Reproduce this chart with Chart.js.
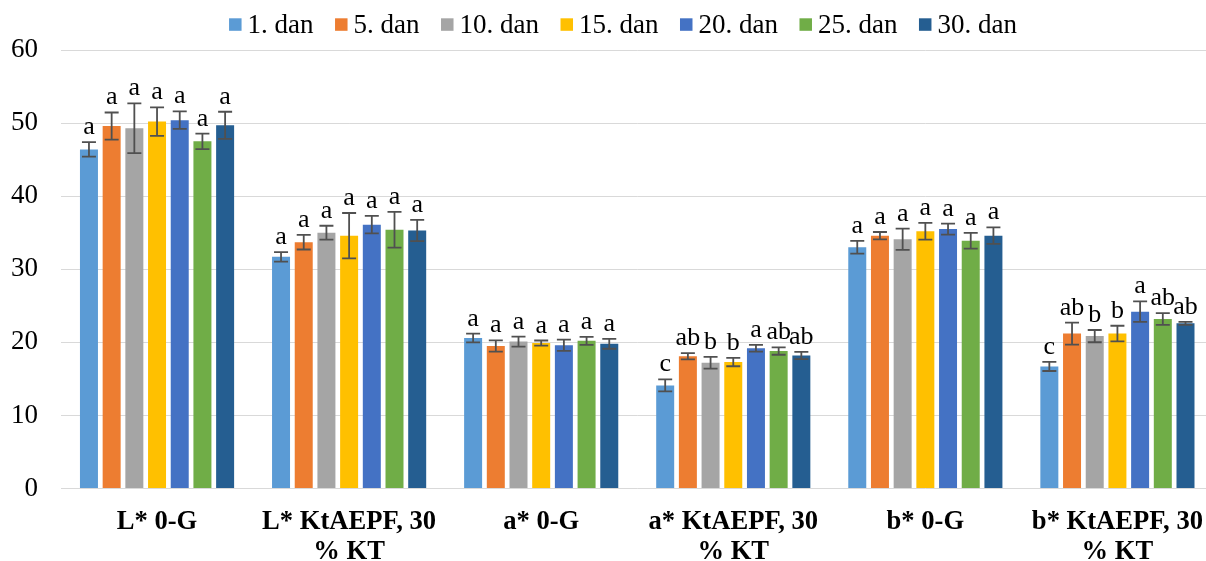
<!DOCTYPE html>
<html><head><meta charset="utf-8">
<script src="https://cdn.jsdelivr.net/npm/chart.js@4.4.1/dist/chart.umd.min.js"></script>
<style>
html,body{margin:0;padding:0;background:#fff;overflow:hidden;width:1206px;height:561px}
#wrap{width:1214px;height:561px}
</style>
</head><body><div id="wrap"><canvas id="c" width="1214" height="561"></canvas></div>
<script>
// ---- data ----
const categories = ['L* 0-G', ['L* KtAEPF, 30', '% KT'], 'a* 0-G', ['a* KtAEPF, 30', '% KT'], 'b* 0-G', ['b* KtAEPF, 30', '% KT']];
const seriesNames = ['1. dan', '5. dan', '10. dan', '15. dan', '20. dan', '25. dan', '30. dan'];
const seriesColors = ['#5B9BD5', '#ED7D31', '#A5A5A5', '#FFC000', '#4472C4', '#70AD47', '#255E91'];

const day1  = [46.4, 31.7, 20.6, 14.1, 33.0, 16.7];
const day5  = [49.6, 33.7, 19.5, 18.1, 34.6, 21.2];
const day10 = [49.3, 35.0, 20.1, 17.2, 34.1, 20.85];
const day15 = [50.2, 34.6, 19.9, 17.3, 35.2, 21.2];
const day20 = [50.4, 36.1, 19.6, 19.2, 35.5, 24.2];
const day25 = [47.5, 35.4, 20.2, 18.8, 33.9, 23.2];
const day30 = [49.7, 35.3, 19.8, 18.2, 34.6, 22.6];

const err1  = [1.0, 0.65, 0.6, 0.82, 0.87, 0.62];
const err5  = [1.85, 1.0, 0.77, 0.43, 0.5, 1.5];
const err10 = [3.4, 0.95, 0.68, 0.8, 1.46, 0.84];
const err15 = [1.95, 3.1, 0.35, 0.57, 1.14, 1.07];
const err20 = [1.2, 1.2, 0.77, 0.46, 0.75, 1.41];
const err25 = [1.05, 2.45, 0.55, 0.5, 1.07, 0.8];
const err30 = [1.85, 1.45, 0.68, 0.5, 1.12, 0.2];

const let1  = ['a', 'a', 'a', 'c', 'a', 'c'];
const let5  = ['a', 'a', 'a', 'ab', 'a', 'ab'];
const let10 = ['a', 'a', 'a', 'b', 'a', 'b'];
const let15 = ['a', 'a', 'a', 'b', 'a', 'b'];
const let20 = ['a', 'a', 'a', 'a', 'a', 'a'];
const let25 = ['a', 'a', 'a', 'ab', 'a', 'ab'];
const let30 = ['a', 'a', 'a', 'ab', 'a', 'ab'];

const yTicks = [0, 10, 20, 30, 40, 50, 60];

const values = [day1, day5, day10, day15, day20, day25, day30];
const errors = [err1, err5, err10, err15, err20, err25, err30];
const letters = [let1, let5, let10, let15, let20, let25, let30];

const SERIF = '"Liberation Serif", "Times New Roman", serif';

const errorBarPlugin = {
  id: 'errbars',
  afterDatasetsDraw(chart) {
    const ctx = chart.ctx, y = chart.scales.y;
    chart.data.datasets.forEach((ds, di) => {
      const meta = chart.getDatasetMeta(di);
      meta.data.forEach((bar, i) => {
        const v = ds.data[i], e = errors[di][i];
        const yt = y.getPixelForValue(v + e), yb = y.getPixelForValue(v - e);
        ctx.save();
        ctx.strokeStyle = '#505050';
        ctx.lineWidth = 1.8;
        ctx.beginPath();
        ctx.moveTo(bar.x, yt); ctx.lineTo(bar.x, yb);
        ctx.moveTo(bar.x - 7, yt); ctx.lineTo(bar.x + 7, yt);
        ctx.moveTo(bar.x - 7, yb); ctx.lineTo(bar.x + 7, yb);
        ctx.stroke();
        ctx.fillStyle = '#000';
        ctx.font = '26px ' + SERIF;
        ctx.textAlign = 'center';
        ctx.textBaseline = 'alphabetic';
        ctx.fillText(letters[di][i], bar.x, yt - 8);
        ctx.restore();
      });
    });
  }
};

const legendPlugin = {
  id: 'toplegend',
  afterDraw(chart) {
    const ctx = chart.ctx;
    ctx.save();
    ctx.font = '27px ' + SERIF;
    const box = 12.5, gap = 6, space = 21.5;
    const widths = seriesNames.map(n => ctx.measureText(n).width);
    let total = 0;
    widths.forEach((w, i) => { total += box + gap + w + (i < widths.length - 1 ? space : 0); });
    let x = 623 - total / 2;
    ctx.textBaseline = 'alphabetic';
    ctx.textAlign = 'left';
    seriesNames.forEach((n, i) => {
      ctx.fillStyle = seriesColors[i];
      ctx.fillRect(x, 18.3, box, box);
      ctx.fillStyle = '#000';
      ctx.fillText(n, x + box + gap, 32.5);
      x += box + gap + widths[i] + space;
    });
    ctx.restore();
  }
};

new Chart(document.getElementById('c'), {
  type: 'bar',
  data: {
    labels: categories,
    datasets: seriesNames.map((n, i) => ({
      label: n,
      data: values[i],
      backgroundColor: seriesColors[i],
      borderWidth: 0,
      categoryPercentage: 0.827,
      barPercentage: 0.793
    }))
  },
  options: {
    responsive: false,
    animation: false,
    layout: { padding: { top: 50, right: 0, left: 0, bottom: 0 } },
    plugins: { legend: { display: false }, tooltip: { enabled: false } },
    scales: {
      x: {
        grid: { display: false },
        border: { display: false },
        ticks: { color: '#000', font: { family: SERIF, size: 26.6, weight: 'bold', lineHeight: 1.12 }, padding: 11, maxRotation: 0, autoSkip: false },
        afterFit(s) { s.height = 72.5; }
      },
      y: {
        min: 0, max: 60,
        afterBuildTicks(s) { s.ticks = yTicks.map(v => ({ value: v })); },
        grid: { color: '#d9d9d9', lineWidth: 1, drawTicks: false },
        border: { display: false },
        ticks: { color: '#000', font: { family: SERIF, size: 27 }, padding: 23 },
        afterFit(s) { s.width = 61; }
      }
    }
  },
  plugins: [errorBarPlugin, legendPlugin]
});
</script>
</body></html>
